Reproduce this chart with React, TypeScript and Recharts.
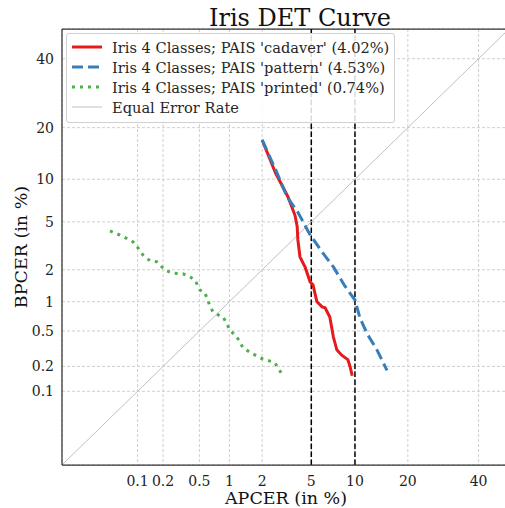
import React from "react";
import {
  LineChart,
  Line,
  XAxis,
  YAxis,
  CartesianGrid,
  ReferenceLine,
  Customized,
} from "recharts";

// values in percent
const cadaverApcer = [2.0, 2.6, 3.3, 3.75, 3.9, 3.95, 4.1, 4.5, 4.9, 5.15, 5.5, 6.0, 6.3, 6.8, 7.2, 7.6, 8.2, 9.0, 9.3, 9.6];
const cadaverBpcer = [17.2, 11.0, 7.6, 5.6, 4.6, 3.6, 2.6, 2.1, 1.55, 1.45, 1.0, 0.89, 0.87, 0.7, 0.43, 0.31, 0.27, 0.24, 0.2, 0.155];

const patternApcer = [2.0, 2.68, 3.24, 3.95, 4.9, 6.0, 7.2, 8.6, 10.0, 10.75, 11.9, 13.6, 15.5];
const patternBpcer = [17.2, 11.0, 7.6, 5.9, 3.95, 2.86, 2.12, 1.42, 1.04, 0.685, 0.465, 0.31, 0.18];

const printedApcer = [0.045, 0.064, 0.088, 0.101, 0.116, 0.141, 0.17, 0.21, 0.25, 0.334, 0.4, 0.45, 0.507, 0.57, 0.61, 0.64, 0.69, 0.77, 0.87, 0.95, 1.01, 1.18, 1.34, 1.56, 1.84, 2.03, 2.33, 2.58, 2.73, 2.95];
const printedBpcer = [4.25, 3.88, 3.47, 3.1, 2.7, 2.4, 2.35, 1.99, 1.87, 1.84, 1.72, 1.61, 1.3, 1.22, 1.04, 0.91, 0.79, 0.74, 0.7, 0.59, 0.51, 0.43, 0.33, 0.29, 0.26, 0.244, 0.231, 0.22, 0.19, 0.163];

const eerLine = [0.01, 50];
const tickValues = [0.1, 0.2, 0.5, 1, 2, 5, 10, 20, 40];
const thresholds = [5, 10];
const axisRange = [0.01, 50];

const seriesNames = [
  "Iris 4 Classes; PAIS 'cadaver' (4.02%)",
  "Iris 4 Classes; PAIS 'pattern' (4.53%)",
  "Iris 4 Classes; PAIS 'printed' (0.74%)",
  "Equal Error Rate",
];

// inverse normal CDF (Acklam)
function ppf(p: number): number {
  const a = [-39.69683028665376, 220.9460984245205, -275.928510446969, 138.357751867269, -30.66479806614716, 2.506628277459239];
  const b = [-54.47609879822406, 161.5858368580409, -155.6989798598866, 66.80131188771972, -13.28068155288572];
  const c = [-0.007784894002430293, -0.3223964580411365, -2.400758277161838, -2.549671348283322, 4.374664141464968, 2.938163982698783];
  const d = [0.007784695709041462, 0.3224671290700398, 2.445134137142996, 3.754408661907416];
  const plow = 0.02425;
  if (p < plow) {
    const q = Math.sqrt(-2 * Math.log(p));
    return (((((c[0] * q + c[1]) * q + c[2]) * q + c[3]) * q + c[4]) * q + c[5]) / ((((d[0] * q + d[1]) * q + d[2]) * q + d[3]) * q + 1);
  }
  if (p <= 1 - plow) {
    const q = p - 0.5;
    const r = q * q;
    return ((((((a[0] * r + a[1]) * r + a[2]) * r + a[3]) * r + a[4]) * r + a[5]) * q) / (((((b[0] * r + b[1]) * r + b[2]) * r + b[3]) * r + b[4]) * r + 1);
  }
  const q = Math.sqrt(-2 * Math.log(1 - p));
  return -(((((c[0] * q + c[1]) * q + c[2]) * q + c[3]) * q + c[4]) * q + c[5]) / ((((d[0] * q + d[1]) * q + d[2]) * q + d[3]) * q + 1);
}

const probit = (pct: number) => ppf(pct / 100);
const toPoints = (xs: number[], ys: number[]) => xs.map((x, i) => ({ x: probit(x), y: probit(ys[i]) }));

const cadaver = toPoints(cadaverApcer, cadaverBpcer);
const pattern = toPoints(patternApcer, patternBpcer);
const printed = toPoints(printedApcer, printedBpcer);
const eer = toPoints(eerLine, eerLine);

const ticks = tickValues.map(probit);
const tickLabel = (v: number) => {
  const i = ticks.findIndex((t) => Math.abs(t - v) < 1e-6);
  return i >= 0 ? String(tickValues[i]) : "";
};
const domain = [probit(axisRange[0]), probit(axisRange[1])];

const FONT = "'DejaVu Serif', serif";
const legendStyles = [
  { color: "#e41a1c", dash: undefined, width: 3 },
  { color: "#377eb8", dash: "11 5", width: 3 },
  { color: "#4daf4a", dash: "3 5", width: 3 },
  { color: "#c0c0c0", dash: undefined, width: 1 },
];

function LegendBox() {
  return (
    <div
      style={{
        position: "absolute",
        left: 66,
        top: 33,
        border: "1px solid #d0d0d0",
        borderRadius: 3,
        background: "rgba(255,255,255,0.85)",
        padding: "3px 5px 5px 5px",
        fontFamily: FONT,
        fontSize: 14.6,
        color: "#262626",
      }}
    >
      {seriesNames.map((name, i) => (
        <div key={name} style={{ display: "flex", alignItems: "center", height: 20 }}>
          <svg width={30} height={6} style={{ marginRight: 10 }}>
            <line
              x1={0}
              y1={3}
              x2={30}
              y2={3}
              stroke={legendStyles[i].color}
              strokeWidth={legendStyles[i].width}
              strokeDasharray={legendStyles[i].dash}
            />
          </svg>
          <span style={{ whiteSpace: "nowrap" }}>{name}</span>
        </div>
      ))}
    </div>
  );
}

function Labels() {
  return (
    <g fontFamily={FONT} fill="#111">
      <text x={300} y={26} textAnchor="middle" fontSize={24}>
        Iris DET Curve
      </text>
      <text x={286} y={504} textAnchor="middle" fontSize={17.5}>
        APCER (in %)
      </text>
      <text transform="translate(27, 247) rotate(-90)" textAnchor="middle" fontSize={17.5}>
        BPCER (in %)
      </text>
    </g>
  );
}

export default function App() {
  return (
    <div style={{ position: "fixed", left: 0, top: 0, width: 505, height: 508, overflow: "hidden", background: "#fff" }}>
      <LineChart width={520} height={508} margin={{ top: 29, right: 11, left: 10, bottom: 13 }}>
        <CartesianGrid stroke="#cfcfcf" strokeDasharray="3 2" />
        <XAxis
          type="number"
          dataKey="x"
          domain={domain}
          ticks={ticks}
          allowDataOverflow
          tickFormatter={tickLabel}
          tickLine={false}
          tickMargin={5}
          height={30}
          axisLine={{ stroke: "#333", strokeWidth: 1.25 }}
          tick={{ fontSize: 14, fill: "#222", fontFamily: FONT }}
        />
        <YAxis
          type="number"
          dataKey="y"
          domain={domain}
          ticks={ticks}
          allowDataOverflow
          tickFormatter={tickLabel}
          tickLine={false}
          width={52}
          axisLine={{ stroke: "#333", strokeWidth: 1.25 }}
          tick={{ fontSize: 14, fill: "#222", fontFamily: FONT }}
        />
        <ReferenceLine y={domain[1]} stroke="#333" strokeWidth={1.25} />
        {thresholds.map((t) => (
          <ReferenceLine key={t} x={probit(t)} stroke="#000" strokeWidth={1.5} strokeDasharray="5.5 2.5" />
        ))}
        <Line data={eer} dataKey="y" stroke="#c0c0c0" strokeWidth={1} dot={false} isAnimationActive={false} />
        <Line data={cadaver} dataKey="y" stroke="#e41a1c" strokeWidth={3} dot={false} isAnimationActive={false} />
        <Line data={pattern} dataKey="y" stroke="#377eb8" strokeWidth={3} strokeDasharray="11 5" dot={false} isAnimationActive={false} />
        <Line data={printed} dataKey="y" stroke="#4daf4a" strokeWidth={3} strokeDasharray="3 5" dot={false} isAnimationActive={false} />
        <Customized component={Labels} />
      </LineChart>
      <LegendBox />
    </div>
  );
}
